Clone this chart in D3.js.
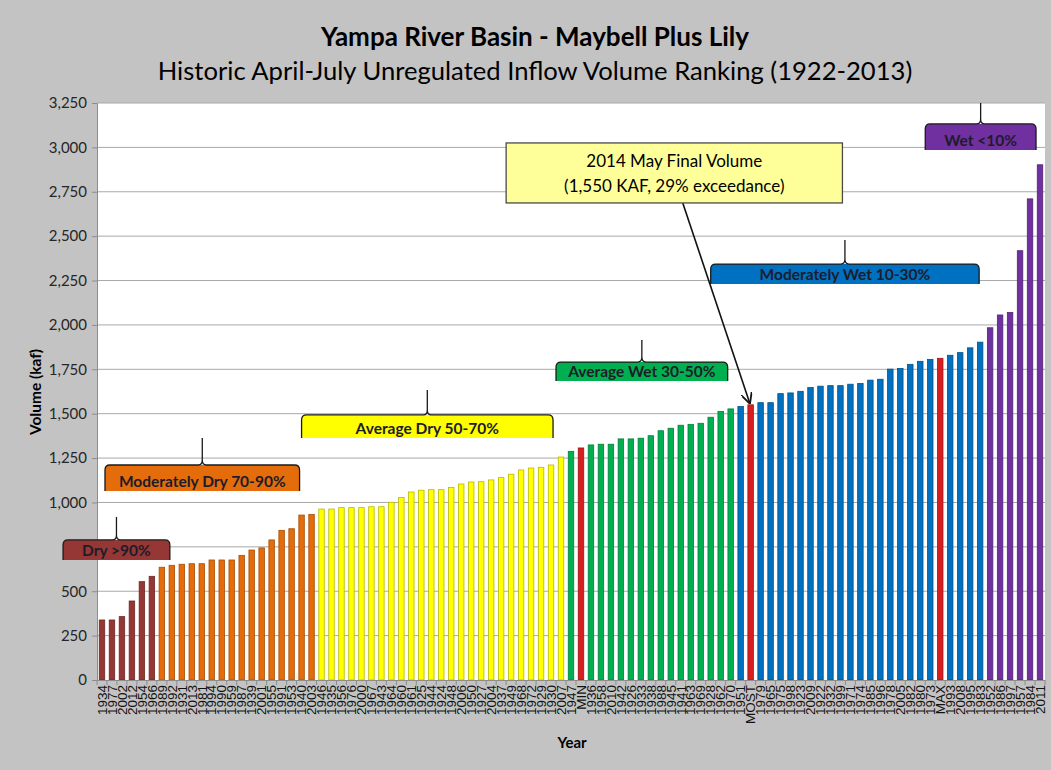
<!DOCTYPE html>
<html>
<head>
<meta charset="utf-8">
<script src="https://cdn.jsdelivr.net/npm/d3@7"></script>
<style>
    body { margin: 0; background: #c3c3c3; }
    svg { display: block; }
    text { font-family: Lato, "Open Sans", sans-serif; }
</style>
</head>
<body>
<svg id="chart" width="1051" height="770"></svg>
<script>
// Ranked years (lowest to highest volume), with the 2014 forecast bars MIN / MOST / MAX
const years = [
    "1934", "1977", "2002", "2012", "1954", "1966",
    "1989", "1992", "1931", "2013", "1981", "1994", "1990", "1959", "1987", "1939", "2001", "1955", "1991", "1953", "1940", "2003",
    "1946", "1935", "1956", "1976", "2000", "1967", "1943", "1964", "1960", "1961", "1925", "1944", "1924", "1948", "2006", "1950", "1927", "2004", "1937", "1949", "1968", "1972", "1929", "1930", "2007",
    "1947", "MIN", "1936", "1958", "2010", "1942", "1926", "1933", "1938", "1988", "1945", "1941", "1963", "1969", "1928", "1962", "1970",
    "1951", "MOST", "1979", "1965", "1975", "1998", "1923", "2009", "1922", "1932", "1999", "1971", "1974", "1985", "1996", "1978", "2005", "1982", "1980", "1973", "MAX", "1993", "2008", "1995", "1983",
    "1952", "1986", "1997", "1957", "1984", "2011"
];

// April-July volume (kaf)
const volumes = [
    338, 338, 357, 445, 554, 584,
    635, 646, 652, 655, 655, 676, 676, 676, 702, 732, 744, 789, 843, 852, 929, 933,
    963, 963, 971, 971, 971, 976, 976, 1001, 1028, 1059, 1069, 1072, 1072, 1085, 1104, 1115, 1117, 1127, 1140, 1159, 1183, 1194, 1198, 1211, 1256,
    1288, 1307, 1324, 1328, 1328, 1358, 1358, 1362, 1376, 1404, 1418, 1435, 1440, 1446, 1480, 1513, 1527,
    1540, 1550, 1562, 1562, 1613, 1617, 1626, 1647, 1655, 1658, 1658, 1666, 1670, 1689, 1694, 1751, 1755, 1778, 1795, 1806, 1812, 1829, 1844, 1871, 1903,
    1984, 2056, 2070, 2418, 2710, 2902
];

// Exceedance classes: how many ranked bars fall in each
const classNames = ["Dry >90%", "Moderately Dry 70-90%", "Average Dry 50-70%", "Average Wet 30-50%", "Moderately Wet 10-30%", "Wet <10%"];
const classCounts = [6, 16, 25, 17, 25, 6];
const classColors = ["#953735", "#e46c0a", "#ffff00", "#00b050", "#0070c0", "#7030a0"];
const forecastLabels = ["MIN", "MOST", "MAX"];
const forecastColor = "#d81e1e";

const yTicks = d3.range(0, 3251, 250);
// the 750 label sits under the "Dry >90%" bracket in the original, so it is not shown
const hiddenYLabels = [750];

// Bracket placement (in bar-step units from the plot's left edge, and in kaf)
const brackets = [
    { from: -3.4, to: 7.3, top: 789, bottom: 676, tip: 918 },
    { from: 0.8, to: 20.3, top: 1211, bottom: 1065, tip: 1363 },
    { from: 20.5, to: 45.7, top: 1493, bottom: 1363, tip: 1634 },
    { from: 46.0, to: 63.2, top: 1791, bottom: 1684, tip: 1915 },
    { from: 61.5, to: 88.4, top: 2343, bottom: 2231, tip: 2479 },
    { from: 83.0, to: 94.1, top: 3132, bottom: 2985, tip: 3250 }
];

const svg = d3.select("#chart");
const width = 1051, height = 770;
const plot = { left: 97, right: 1045, top: 103, bottom: 680 };

svg.append("rect").attr("width", width).attr("height", height).attr("fill", "#c3c3c3");
svg.append("rect")
    .attr("x", plot.left).attr("y", plot.top)
    .attr("width", plot.right - plot.left).attr("height", plot.bottom - plot.top)
    .attr("fill", "#ffffff");

// Titles
svg.append("text")
    .attr("x", 535).attr("y", 46)
    .attr("text-anchor", "middle")
    .style("font-size", "26px").style("font-weight", "bold")
    .text("Yampa River Basin - Maybell Plus Lily");
svg.append("text")
    .attr("x", 535).attr("y", 80)
    .attr("text-anchor", "middle")
    .style("font-size", "25.6px")
    .text("Historic April-July Unregulated Inflow Volume Ranking (1922-2013)");

// Scales
let x = d3.scaleBand()
    .domain(years)
    .range([plot.left, plot.right])
    .paddingInner(0.45)
    .paddingOuter(0.225);
let y = d3.scaleLinear().domain([0, 3250]).range([plot.bottom, plot.top]);
const step = x.step();
const xAt = (f) => plot.left + f * step;

// Bar colours from class counts
let barColors = [];
classCounts.forEach((n, k) => {
    for (let j = 0; j < n; j++) barColors.push(classColors[k]);
});
years.forEach((label, i) => {
    if (forecastLabels.includes(label)) barColors[i] = forecastColor;
});

// Gridlines
svg.append("g")
    .selectAll("line")
    .data(yTicks.slice(1))
    .enter()
    .append("line")
    .attr("x1", plot.left).attr("x2", plot.right)
    .attr("y1", (d) => y(d)).attr("y2", (d) => y(d))
    .attr("stroke", "#a8a8a8").attr("stroke-width", 1);

// Y axis
const fmt = d3.format(",");
let yAxis = svg.append("g")
    .attr("transform", `translate(${plot.left},0)`)
    .call(d3.axisLeft(y).tickValues(yTicks).tickSize(5).tickPadding(5)
        .tickFormat((d) => hiddenYLabels.includes(d) ? "" : fmt(d)));
yAxis.select(".domain").attr("stroke", "#8c8c8c");
yAxis.selectAll(".tick line").attr("stroke", "#8c8c8c");
yAxis.selectAll("text")
    .style("font-size", "15px")
    .style("font-family", "Lato, sans-serif")
    .attr("fill", "#262626");

// Bars
svg.append("g")
    .selectAll("rect")
    .data(years)
    .enter()
    .append("rect")
    .attr("x", (d) => x(d))
    .attr("width", x.bandwidth())
    .attr("y", (d, i) => y(volumes[i]))
    .attr("height", (d, i) => y(0) - y(volumes[i]))
    .attr("fill", (d, i) => barColors[i])
    .attr("stroke", (d, i) => d3.color(barColors[i]).darker(0.9))
    .attr("stroke-width", 0.8);

// X axis
let xAxis = svg.append("g")
    .attr("transform", `translate(0,${plot.bottom})`)
    .call(d3.axisBottom(x).tickSize(0).tickPadding(4));
xAxis.select(".domain").attr("stroke", "#8c8c8c");
xAxis.selectAll(".tick text")
    .attr("transform", "rotate(-90)")
    .attr("text-anchor", "end")
    .attr("x", -5)
    .attr("y", 0)
    .attr("dy", "0.35em")
    .style("font-size", "13.5px")
    .style("font-family", "'Liberation Sans', Arial, sans-serif")
    .attr("fill", "#111");
// tick marks between categories
svg.append("g")
    .selectAll("line")
    .data(d3.range(years.length + 1))
    .enter()
    .append("line")
    .attr("x1", (i) => xAt(i)).attr("x2", (i) => xAt(i))
    .attr("y1", plot.bottom).attr("y2", plot.bottom + 5)
    .attr("stroke", "#8c8c8c");

// Axis titles
svg.append("text")
    .attr("transform", "translate(41,392) rotate(-90)")
    .attr("text-anchor", "middle")
    .style("font-size", "15.5px").style("font-weight", "bold")
    .text("Volume (kaf)");
svg.append("text")
    .attr("x", 572).attr("y", 748)
    .attr("text-anchor", "middle")
    .style("font-size", "15px").style("font-weight", "bold")
    .text("Year");

// Class brackets
function fillPath(x0, x1, yt, yb, r) {
    return `M${x0},${yb} L${x0},${yt + r} Q${x0},${yt} ${x0 + r},${yt} L${x1 - r},${yt} Q${x1},${yt} ${x1},${yt + r} L${x1},${yb} Z`;
}
function bracePath(x0, x1, yt, yb, ytip, r) {
    const xc = (x0 + x1) / 2;
    return `M${x0},${yb} L${x0},${yt + r} Q${x0},${yt} ${x0 + r},${yt} L${xc - 4},${yt} Q${xc},${yt} ${xc},${yt - 5} L${xc},${ytip}` +
        ` M${xc},${yt - 5} Q${xc},${yt} ${xc + 4},${yt} L${x1 - r},${yt} Q${x1},${yt} ${x1},${yt + r} L${x1},${yb}`;
}

brackets.forEach((b, k) => {
    let x0 = xAt(b.from), x1 = xAt(b.to);
    let yt = y(b.top), yb = y(b.bottom), ytip = y(b.tip);
    let g = svg.append("g");
    g.append("path")
        .attr("d", fillPath(x0, x1, yt, yb, 5))
        .attr("fill", classColors[k]);
    g.append("path")
        .attr("d", bracePath(x0, x1, yt, yb, ytip, 5))
        .attr("fill", "none")
        .attr("stroke", "#1a1a1a")
        .attr("stroke-width", 1.3);
    g.append("text")
        .attr("x", (x0 + x1) / 2)
        .attr("y", yb - 4)
        .attr("text-anchor", "middle")
        .style("font-size", "15.5px").style("font-weight", "bold")
        .attr("fill", "#1c1c2a")
        .text(classNames[k]);
});

// Forecast callout
let mostIndex = years.indexOf("MOST");
let box = { from: 41.0, to: 74.7, top: 3025, bottom: 2687, anchor: 58.7 };
let bx0 = xAt(box.from), bx1 = xAt(box.to), by0 = y(box.top), by1 = y(box.bottom);

svg.append("defs").append("marker")
    .attr("id", "arrow")
    .attr("viewBox", "0 0 10 10")
    .attr("refX", 9).attr("refY", 5)
    .attr("markerWidth", 7).attr("markerHeight", 7)
    .attr("orient", "auto")
    .append("path")
    .attr("d", "M0,0 L10,5 L0,10")
    .attr("fill", "none")
    .attr("stroke", "#111")
    .attr("stroke-width", 1.6);

svg.append("line")
    .attr("x1", xAt(box.anchor)).attr("y1", by1)
    .attr("x2", x("MOST") + x.bandwidth() / 2 - 1).attr("y2", y(volumes[mostIndex]) - 2)
    .attr("stroke", "#111").attr("stroke-width", 1.6)
    .attr("marker-end", "url(#arrow)");

svg.append("rect")
    .attr("x", bx0).attr("y", by0)
    .attr("width", bx1 - bx0).attr("height", by1 - by0)
    .attr("fill", "#ffff99")
    .attr("stroke", "#4a4a4a").attr("stroke-width", 1.3);
svg.append("text")
    .attr("x", (bx0 + bx1) / 2).attr("y", by0 + 24)
    .attr("text-anchor", "middle")
    .style("font-size", "17px")
    .text("2014 May Final Volume");
svg.append("text")
    .attr("x", (bx0 + bx1) / 2).attr("y", by0 + 49)
    .attr("text-anchor", "middle")
    .style("font-size", "17px")
    .text("(1,550 KAF, 29% exceedance)");
</script>
</body>
</html>
